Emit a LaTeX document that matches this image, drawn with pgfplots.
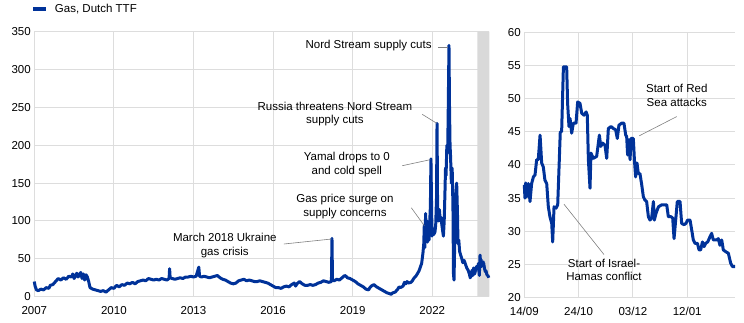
\documentclass[border=0pt]{standalone}
\usepackage{fontspec}
\setmainfont{Liberation Sans}
\usepackage{pgfplots}
\pgfplotsset{compat=1.18}
\definecolor{ecbblue}{HTML}{003299}
\definecolor{gridgrey}{HTML}{DDDDDD}
\definecolor{bandgrey}{HTML}{D9D9D9}
\definecolor{pingrey}{HTML}{808080}

\pgfplotstableread{
x y
2007.00 20
2007.03 14
2007.08 9
2007.15 8
2007.25 10
2007.35 9
2007.45 12
2007.55 11
2007.60 15
2007.70 16
2007.80 20
2007.90 24
2008.00 22
2008.10 25
2008.20 23
2008.30 27
2008.40 26
2008.45 30
2008.50 24
2008.60 31
2008.65 26
2008.75 32
2008.80 24
2008.85 30
2008.90 22
2008.95 29
2009.00 26
2009.05 20
2009.10 12
2009.20 10
2009.30 9
2009.40 8
2009.50 7
2009.60 8
2009.70 6
2009.80 9
2009.90 12
2010.00 11
2010.10 15
2010.20 13
2010.30 16
2010.40 15
2010.50 18
2010.60 17
2010.70 19
2010.80 17
2010.90 20
2011.00 21
2011.10 22
2011.20 21
2011.30 24
2011.40 23
2011.50 22
2011.60 23
2011.70 22
2011.80 24
2011.90 23
2012.00 22
2012.08 24
2012.10 37
2012.12 25
2012.20 24
2012.30 23
2012.40 24
2012.50 25
2012.60 24
2012.70 26
2012.80 26
2012.90 27
2013.00 26
2013.10 27
2013.20 39
2013.23 27
2013.30 26
2013.40 27
2013.50 26
2013.60 25
2013.70 26
2013.80 27
2013.90 28
2014.00 25
2014.10 23
2014.20 22
2014.30 20
2014.40 18
2014.50 17
2014.60 18
2014.70 21
2014.80 22
2014.90 23
2015.00 21
2015.10 22
2015.20 21
2015.30 20
2015.40 20
2015.50 21
2015.60 20
2015.70 19
2015.80 18
2015.90 16
2016.00 14
2016.10 12
2016.20 12
2016.30 11
2016.40 13
2016.50 14
2016.60 13
2016.70 16
2016.80 18
2016.85 14
2016.90 17
2017.00 20
2017.10 17
2017.20 15
2017.30 15
2017.40 16
2017.50 15
2017.60 16
2017.70 18
2017.80 19
2017.90 21
2018.00 20
2018.10 19
2018.20 20
2018.22 77
2018.24 22
2018.30 21
2018.40 23
2018.50 22
2018.60 25
2018.70 28
2018.75 27
2018.80 25
2018.90 24
2019.00 22
2019.10 20
2019.20 17
2019.30 15
2019.40 13
2019.50 10
2019.60 9
2019.65 12
2019.70 14
2019.80 16
2019.90 13
2020.00 11
2020.10 9
2020.20 7
2020.30 5
2020.40 4
2020.45 3
2020.50 5
2020.60 6
2020.70 10
2020.75 13
2020.80 12
2020.90 14
2020.95 19
2021.00 17
2021.05 20
2021.10 18
2021.20 19
2021.25 21
2021.30 24
2021.35 26
2021.40 28
2021.45 31
2021.50 34
2021.55 39
2021.60 44
2021.65 58
2021.68 70
2021.70 95
2021.72 65
2021.75 110
2021.77 80
2021.80 100
2021.82 72
2021.85 90
2021.88 75
2021.90 95
2021.93 120
2021.95 182
2021.97 130
2021.99 80
2022.02 90
2022.05 82
2022.10 85
2022.13 95
2022.16 130
2022.18 229
2022.20 120
2022.23 100
2022.27 115
2022.30 100
2022.33 105
2022.36 95
2022.40 85
2022.42 80
2022.45 100
2022.48 140
2022.50 170
2022.52 160
2022.55 200
2022.58 190
2022.60 240
2022.63 332
2022.65 250
2022.67 200
2022.69 185
2022.72 150
2022.75 170
2022.78 120
2022.80 30
2022.82 22
2022.84 60
2022.86 100
2022.89 135
2022.92 150
2022.95 110
2022.97 70
2023.00 75
2023.03 60
2023.07 55
2023.10 52
2023.15 45
2023.20 48
2023.25 43
2023.30 38
2023.35 35
2023.40 30
2023.43 25
2023.46 27
2023.50 35
2023.53 28
2023.56 38
2023.60 30
2023.63 35
2023.67 40
2023.70 37
2023.73 40
2023.74 44
2023.76 33
2023.775 28
2023.79 45
2023.80 55
2023.82 46
2023.84 49
2023.86 40
2023.88 45
2023.92 46
2023.93 41
2023.94 44
2023.97 37
2024.00 33
2024.03 34
2024.05 30
2024.08 28
2024.10 28
2024.12 26
2024.13 25
}\longdata

\pgfplotstableread{
x y
0.0 37.0
0.5 35.0
1.0 37.3
1.7 35.2
3.0 37.2
4.2 34.5
5.4 37.2
6.7 38.2
7.9 38.5
9.1 40.8
10.3 40.8
11.6 44.5
12.8 40.3
14.0 39.7
15.2 37.7
16.5 37.2
17.7 33.7
18.9 32.2
20.2 31.2
20.9 28.4
21.9 33.7
23.4 33.5
24.6 34.0
25.6 39.7
26.5 45.0
27.5 45.0
28.8 54.8
31.2 54.8
31.9 49.3
32.9 45.8
33.7 47.0
34.9 44.8
36.1 46.3
38.1 46.3
39.3 49.5
41.0 49.3
42.3 47.8
44.0 47.5
45.5 48.0
46.4 47.5
47.2 40.8
48.4 36.5
49.1 41.8
50.8 41.0
53.3 41.3
55.3 44.5
56.3 42.8
57.7 43.3
59.4 43.0
60.7 41.0
61.9 45.5
63.9 45.8
65.6 45.5
67.3 45.3
68.5 44.0
69.7 46.0
71.7 46.3
73.4 46.3
74.7 44.5
75.4 44.3
76.1 41.5
77.1 43.8
77.9 40.8
78.6 44.0
80.3 44.0
81.1 40.8
82.0 38.2
83.0 40.3
84.0 38.7
85.2 38.7
86.5 37.0
87.7 35.2
88.9 34.7
90.1 34.5
91.4 32.2
92.6 31.7
93.8 32.0
95.1 34.5
95.8 31.7
97.0 32.7
98.8 33.7
101.2 34.0
104.9 34.0
106.1 32.2
108.1 32.2
109.3 32.0
110.3 28.9
111.5 31.7
112.7 34.5
114.7 34.5
115.9 31.2
117.6 31.0
119.1 31.2
120.3 31.7
122.1 31.7
123.3 30.2
124.5 28.7
125.7 28.2
127.5 28.2
128.7 27.2
129.9 27.2
131.2 28.4
132.4 27.7
133.6 28.2
135.1 28.4
136.8 29.2
138.0 29.7
139.2 28.7
140.5 28.7
141.7 28.7
142.9 28.9
144.1 27.9
145.4 28.7
146.6 27.2
148.6 26.9
150.3 26.7
152.0 25.2
153.3 24.7
155.2 24.7
}\shortdata

\pgfplotsset{
  common/.style={
    scale only axis,
    axis line style={draw=none},
    tick style={draw=none},
    grid=major,
    major grid style={gridgrey, line width=1pt},
    ticklabel style={font=\fontsize{11.5}{13}\selectfont, text=black},
    xticklabel style={yshift=-6pt},
    /pgf/number format/assume math mode=true,
    clip=false,
  },
  gasline/.style={ecbblue, line width=3pt, line join=round, no markers},
}
\tikzset{
  pin/.style={pingrey, line width=0.6pt},
  lab/.style={font=\fontsize{11.5}{13.5}\selectfont, align=center, inner sep=0pt},
}

\begin{document}
\begin{tikzpicture}
\useasboundingbox (0pt,0pt) rectangle (744pt,323pt);

\begin{axis}[common,
  at={(34.3pt,26.3pt)}, anchor=south west,
  width=455pt, height=265pt,
  xmin=2007, xmax=2024.15, ymin=0, ymax=350,
  xtick={2007,2010,2013,2016,2019,2022},
  ytick={0,50,100,150,200,250,300,350},
  xticklabel style={/pgf/number format/1000 sep={}},
  legend style={at={(0,1)}, anchor=west, yshift=22.7pt, xshift=-6pt,
    draw=none, fill=none, font=\fontsize{11.5}{13}\selectfont,
    /tikz/every even column/.append style={column sep=2pt}},
  legend image code/.code={\draw[ecbblue, line width=3.5pt] (0pt,0pt) -- (13pt,0pt);},
]
\addplot[fill=bandgrey, draw=none, forget plot] coordinates {(2023.70,0) (2023.70,350) (2024.15,350) (2024.15,0)} \closedcycle;
\addplot[gasline] table {\longdata};
\addlegendentry{\hspace{5pt}Gas, Dutch TTF}

\node[lab, anchor=east] at (axis cs:2021.98,331.5) {Nord Stream supply cuts};
\draw[pin] (axis cs:2022.22,330) -- (axis cs:2022.60,330);
\node[lab] at (axis cs:2018.33,241.3) {Russia threatens Nord Stream\\supply cuts};
\draw[pin] (axis cs:2021.62,240.9) -- (axis cs:2022.17,229);
\node[lab] at (axis cs:2018.78,174.3) {Yamal drops to 0\\and cold spell};
\draw[pin] (axis cs:2020.87,173) -- (axis cs:2021.93,181);
\node[lab] at (axis cs:2018.71,118.9) {Gas price surge on\\supply concerns};
\draw[pin] (axis cs:2021.21,117.5) -- (axis cs:2021.70,93.8);
\node[lab] at (axis cs:2014.18,67.4) {March 2018 Ukraine\\gas crisis};
\draw[pin] (axis cs:2016.41,69.6) -- (axis cs:2018.21,76.2);
\end{axis}

\begin{axis}[common,
  at={(524.3pt,25.3pt)}, anchor=south west,
  width=210.7pt, height=265.4pt,
  xmin=0, xmax=155.2, ymin=20, ymax=60,
  xtick={0,40,80,120},
  xticklabels={14/09,24/10,03/12,12/01},
  ytick={20,25,30,35,40,45,50,55,60},
]
\addplot[gasline] table {\shortdata};
\node[lab] at (axis cs:112.3,50.5) {Start of Red\\Sea attacks};
\draw[pin] (axis cs:112.3,47.3) -- (axis cs:84.7,44.4);
\node[lab] at (axis cs:58.7,24.2) {Start of Israel-\\Hamas conflict};
\draw[pin] (axis cs:58.7,26.5) -- (axis cs:29.2,34.1);
\end{axis}
\end{tikzpicture}
\end{document}
